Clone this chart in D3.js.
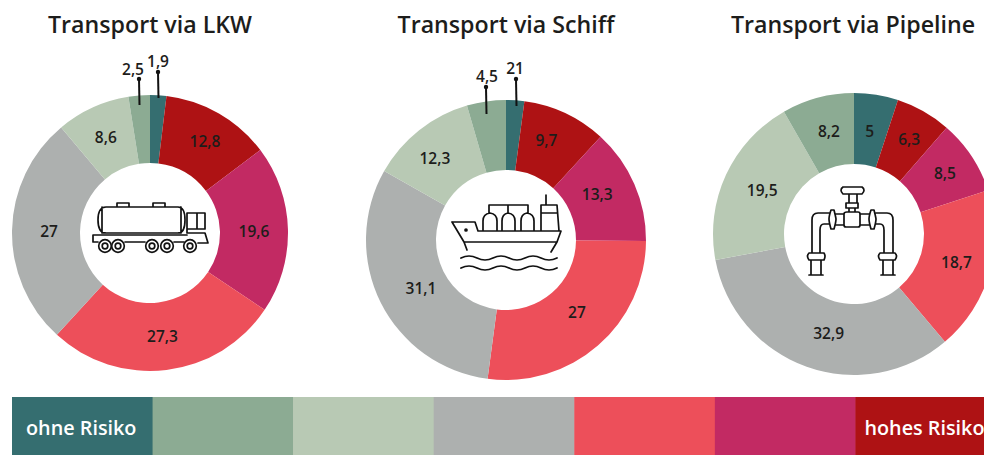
<!DOCTYPE html>
<html><head><meta charset="utf-8">
<script src="https://cdn.jsdelivr.net/npm/d3@7"></script>
<style>html,body{margin:0;padding:0;background:#fff;overflow:hidden}svg{display:block;font-family:"Open Sans",sans-serif}</style>
</head><body><svg id="c" width="984" height="455"></svg>
<script>
const riskLevels=["ohne Risiko","","","","","","hohes Risiko"];
const colors=["#356e70","#8cab93","#b8c9b4","#adb0af","#ed4f5a","#c22a63","#ae1214"];
const sliceOrder=[0,6,5,4,3,2,1];
const titles=["Transport via LKW","Transport via Schiff","Transport via Pipeline"];
const lkwValues=[1.9,12.8,19.6,27.3,27,8.6,2.5];
const schiffValues=[2.1,9.7,13.3,27,31.1,12.3,4.5];
const pipelineValues=[5,6.3,8.5,18.7,32.9,19.5,8.2];
const lkwLabels=["1,9","12,8","19,6","27,3","27","8,6","2,5"];
const schiffLabels=["21","9,7","13,3","27","31,1","12,3","4,5"];
const pipelineLabels=["5","6,3","8,5","18,7","32,9","19,5","8,2"];
const layout=[
 {cx:150,cy:233,r:138,tx:150,vals:lkwValues,labs:lkwLabels,
  nudge:[[0,0],[3,-1],[0,1],[0,0],[3,1],[-1,-1],[0,0]],
  pins:{0:{x:158,y1:72,y2:98,lx:158,ly:61},6:{x:139,y1:79,y2:105,lx:133,ly:69}}},
 {cx:506,cy:240,r:140,tx:506,vals:schiffValues,labs:schiffLabels,
  nudge:[[0,0],[-4,-4],[-5,-4],[2,-7],[9,2],[-6,1],[0,0]],
  pins:{0:{x:516,y1:79,y2:106,lx:515,ly:68},6:{x:486,y1:87,y2:114,lx:487,ly:76}}},
 {cx:854,cy:234,r:141,tx:853,vals:pipelineValues,labs:pipelineLabels,
  nudge:[[-1,2],[3,-3],[3,-2],[1,0],[10,0],[4,1],[2,-1]],
  pins:{}}
];
const labelFont={size:15.5,weight:600,fill:"#1d1d1b"};
const svg=d3.select("#c");
const pie=d3.pie().sort(null).value(d=>d);
function label(sel,x,y,t){
  return sel.append("text").attr("x",x).attr("y",y+5.5).attr("text-anchor","middle")
   .attr("font-size",labelFont.size).attr("font-weight",labelFont.weight).attr("fill",labelFont.fill).text(t);
}
layout.forEach((c,k)=>{
  svg.append("text").attr("x",c.tx).attr("y",33).attr("text-anchor","middle")
    .attr("font-size",23.2).attr("font-weight",600).attr("fill","#1d1d1b").text(titles[k]);
  const g=svg.append("g").attr("transform",`translate(${c.cx},${c.cy})`);
  const arc=d3.arc().innerRadius(70).outerRadius(c.r);
  const arcs=pie(c.vals);
  g.selectAll("path").data(arcs).join("path").attr("d",arc).attr("fill",(d,i)=>colors[sliceOrder[i]]);
  arcs.forEach((a,i)=>{
    const pin=c.pins[i];
    if(pin){
      svg.append("line").attr("x1",pin.x).attr("x2",pin.x+0.5).attr("y1",pin.y1).attr("y2",pin.y2).attr("stroke","#111").attr("stroke-width",2);
      svg.append("circle").attr("cx",pin.x).attr("cy",pin.y1).attr("r",2.2).attr("fill","#111");
      label(svg,pin.lx,pin.ly,c.labs[i]);
    } else {
      const [x,y]=arc.centroid(a);
      label(g,x+c.nudge[i][0],y+c.nudge[i][1],c.labs[i]);
    }
  });
});
// Legend
const band=d3.scaleBand().domain(d3.range(7)).range([12,996]);
svg.selectAll("rect.leg").data(colors).join("rect").attr("class","leg")
  .attr("x",(d,i)=>band(i)).attr("y",397).attr("width",band.bandwidth()+0.5).attr("height",58).attr("fill",d=>d);
svg.selectAll("text.leg").data(riskLevels).join("text").attr("class","leg")
  .attr("x",(d,i)=>band(i)+(i===0?14:9)).attr("y",435).attr("font-size",19.8).attr("font-weight",600).attr("fill","#fff").text(d=>d);
// Icons
const ic=svg.append("g").attr("fill","none").attr("stroke","#111").attr("stroke-width",1.7).attr("stroke-linejoin","round").attr("stroke-linecap","round");
// truck
ic.append("path").attr("d","M106 207H178Q185 207 185 220Q185 233 178 233H106Q98 233 98 220Q98 207 106 207Z M102 207V233 M181 207V233 M117 207V203H129V207 M153 207V203H165V207 M187 233V213H205V229H197V213 M187 229H197 M93 235H187 M187 233H205L208 243H198 M93 235V242H98 M125 242H145 M174 242H184");
[[105,246],[118,246],[152,246],[167,246],[190,246]].forEach(p=>{
  ic.append("circle").attr("cx",p[0]).attr("cy",p[1]).attr("r",6.3).attr("fill","#fff");
  ic.append("circle").attr("cx",p[0]).attr("cy",p[1]).attr("r",2.8);
});
// ship
ic.append("path").attr("d","M452 222H475L478 231H561L557 242L551 252 M452 222L464 242L467 250 M464 242H557 M483 231V221Q483 214 490 213Q497 214 497 221V231 M502 231V221Q502 214 508 213Q515 214 515 221V231 M521 231V221Q521 214 527 213Q534 214 534 221V231 M489 213V205H528V213 M508 205V213 M541 231V205H557L559 231 M546 205V195 M541 213H557 M461 258q8 -4 16 0t16 0t16 0t16 0t16 0t16 0 M461 268q8 -4 16 0t16 0t16 0t16 0t16 0t16 0");
ic.append("circle").attr("cx",466).attr("cy",230).attr("r",1).attr("fill","#111");
// pipeline
ic.append("path").attr("d","M843 187H862Q866 190 862 194H843Q839 190 843 187Z M849 194V203H857V194 M846 203H858V208H846Z M847 212H858Q860 212 860 214V225Q860 227 858 227H846Q844 227 844 225V214Q844 212 847 212Z M849 208V212 M855 208V212 M831 210H834Q836 218 836 219Q836 222 834 229H831Q829 222 829 219Q829 216 831 210Z M871 210H874Q876 218 876 219Q876 222 874 229H871Q869 222 869 219Q869 216 871 210Z M836 214H844 M836 225H844 M860 214H869 M860 225H869 M829 213H818Q812 213 812 220V253 M829 224H824Q820 224 820 230V253 M876 213H887Q893 213 893 220V253 M876 224H880Q884 224 884 230V253 M809 253H824Q826 256 824 260H809Q806 256 809 253Z M880 253H895Q898 256 895 260H880Q877 256 880 253Z M811 260V275H821V260 M883 260V275H893V260 M809 275H823 M881 275H895");
</script></body></html>
